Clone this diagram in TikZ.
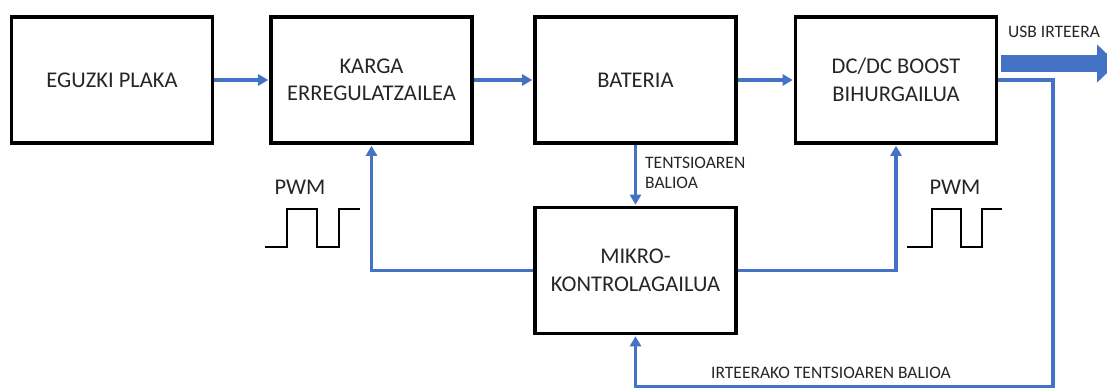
\documentclass[tikz,border=0pt]{standalone}
\usepackage{fontspec}
\setmainfont{Carlito}
\usetikzlibrary{arrows.meta}
\definecolor{lblue}{HTML}{4472C4}
\definecolor{txt}{HTML}{262626}
\begin{document}
\begin{tikzpicture}[x=1pt,y=-1pt,
  box/.style={draw=black, line width=3.6pt, minimum width=201pt, minimum height=126pt, inner sep=0pt, align=center, text=txt, font=\fontsize{22.5}{27.5}\selectfont},
  link/.style={draw=lblue, line width=3.2pt, -{Triangle[length=10pt,width=11pt]}, shorten >=1pt},
  bigarrow/.style={draw=lblue, line width=17pt, -{Triangle[length=20pt,width=37pt]}},
  small/.style={text=txt, font=\fontsize{17.5}{20.5}\selectfont, inner sep=0pt},
  big/.style={text=txt, font=\fontsize{22.5}{27.5}\selectfont, inner sep=0pt},
  wave/.style={draw=black, line width=2.6pt}]
\useasboundingbox (0,0) rectangle (1107,389);
\fill[white] (0,0) rectangle (1107,389);

\node[box] (eg) at (112,80) {EGUZKI PLAKA};
\node[box] (kg) at (371.5,80) {KARGA\\ERREGULATZAILEA};
\node[box] (bat) at (635.5,80) {BATERIA};
\node[box] (dc) at (896,80) {DC/DC BOOST\\BIHURGAILUA};
\node[box] (mk) at (635.5,270.5) {MIKRO-\\KONTROLAGAILUA};

\draw[link] (eg.east) -- (kg.west);
\draw[link] (kg.east) -- (bat.west);
\draw[link] (bat.east) -- (dc.west);
\draw[link] (bat.south) -- (mk.north);
\draw[link] (mk.west) -| (kg.south);
\draw[link] (mk.east) -| (dc.south);

\coordinate (fbR) at (1053,386.5);
\draw[link] (dc.east) -| (fbR) -| (mk.south);

\coordinate (usbEnd) at (1117,63.5);
\draw[bigarrow] ([xshift=3pt]dc.east |- usbEnd) -- (usbEnd);

\node[small] (usb) at (1054,32) {USB IRTEERA};
\node[small, anchor=west, align=left] (tv) at (645,173) {TENTSIOAREN\\BALIOA};
\node[small] (itv) at (831,373) {IRTEERAKO TENTSIOAREN BALIOA};

\node[big] (pwm1) at (300,187) {PWM};
\node[big] (pwm2) at (955,187) {PWM};
\draw[wave] (265,247) -- (287,247) -- (287,209) -- (317,209) -- (317,247) -- (339,247) -- (339,209) -- (360,209);
\draw[wave] (907,247) -- (932,247) -- (932,209) -- (961,209) -- (961,247) -- (982,247) -- (982,209) -- (1002,209);
\end{tikzpicture}
\end{document}
